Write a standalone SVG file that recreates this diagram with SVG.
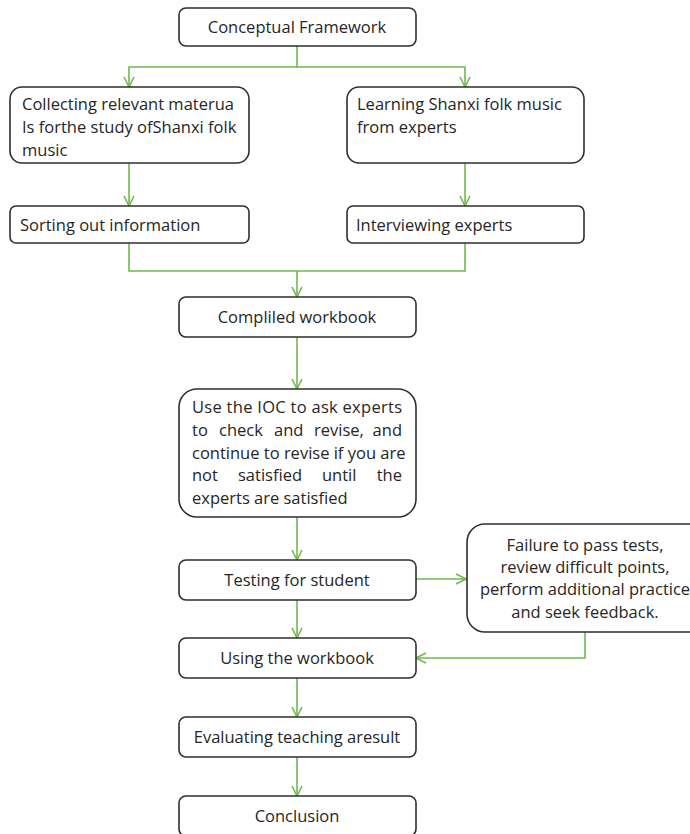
<svg xmlns="http://www.w3.org/2000/svg" width="690" height="834" viewBox="0 0 690 834">
<defs>
<style>
.box{fill:#fff;stroke:#2e2e2e;stroke-width:1.6}
.t{font-family:"Open Sans","Liberation Sans",sans-serif;font-size:16.5px;fill:#262626}
.c{text-anchor:middle}
.e{text-anchor:end}
.ln{fill:none;stroke:#72b84f;stroke-width:1.6}
</style>
<marker id="ah" viewBox="0 0 12 12" refX="11" refY="6" markerWidth="12" markerHeight="12" markerUnits="userSpaceOnUse" orient="auto">
<path d="M1,1 L11,6 L1,11" fill="none" stroke="#72b84f" stroke-width="1.6"/>
</marker>
</defs>
<rect width="690" height="834" fill="#fff"/>
<g id="connectors">
<path class="ln" d="M297,46 V67 H129 V87" marker-end="url(#ah)"/>
<path class="ln" d="M297,67 H465 V87" marker-end="url(#ah)"/>
<path class="ln" d="M129,163 V206" marker-end="url(#ah)"/>
<path class="ln" d="M465,163 V206" marker-end="url(#ah)"/>
<path class="ln" d="M129,243 V271 H465 V243"/>
<path class="ln" d="M297,271 V297" marker-end="url(#ah)"/>
<path class="ln" d="M297,337 V389" marker-end="url(#ah)"/>
<path class="ln" d="M297,517 V560" marker-end="url(#ah)"/>
<path class="ln" d="M416,579 H466" marker-end="url(#ah)"/>
<path class="ln" d="M297,600 V638" marker-end="url(#ah)"/>
<path class="ln" d="M585,632 V658 H416" marker-end="url(#ah)"/>
<path class="ln" d="M297,678 V717" marker-end="url(#ah)"/>
<path class="ln" d="M297,757 V796" marker-end="url(#ah)"/>
</g>
<g id="n1"><rect class="box" x="179" y="8" width="237" height="38" rx="7"/><text class="t c" x="297" y="33">Conceptual Framework</text></g>
<g id="n2"><rect class="box" x="10" y="87" width="239" height="76" rx="12"/>
<text class="t" x="22" y="110">Collecting relevant materua</text>
<text class="t" x="22" y="133">Is forthe study ofShanxi folk</text>
<text class="t" x="22" y="156">music</text></g>
<g id="n3"><rect class="box" x="347" y="87" width="237" height="76" rx="12"/>
<text class="t" x="357" y="110">Learning Shanxi folk music</text>
<text class="t" x="357" y="133">from experts</text></g>
<g id="n4"><rect class="box" x="10" y="206" width="239" height="37" rx="6"/><text class="t" x="20" y="231">Sorting out information</text></g>
<g id="n5"><rect class="box" x="347" y="206" width="237" height="37" rx="6"/><text class="t" x="356" y="231">Interviewing experts</text></g>
<g id="n6"><rect class="box" x="179" y="297" width="237" height="40" rx="7"/><text class="t c" x="297" y="323">Compliled workbook</text></g>
<g id="n7"><rect class="box" x="179" y="389" width="237" height="128" rx="18"/>
<text class="t" x="192" y="413" textLength="210" lengthAdjust="spacing">Use the IOC to ask experts</text>
<text class="t" y="436"><tspan x="192">to</tspan><tspan x="219">check</tspan><tspan x="274">and</tspan><tspan x="314">revise,</tspan></text>
<text class="t e" x="402" y="436">and</text>
<text class="t" x="192" y="459">continue to revise if you are</text>
<text class="t" y="481"><tspan x="192">not</tspan><tspan x="238">satisfied</tspan><tspan x="322">until</tspan></text>
<text class="t e" x="402" y="481">the</text>
<text class="t" x="192" y="504">experts are satisfied</text></g>
<g id="n8"><rect class="box" x="179" y="560" width="237" height="40" rx="7"/><text class="t c" x="297" y="586">Testing for student</text></g>
<g id="n9"><rect class="box" x="467" y="524" width="240" height="108" rx="18"/>
<text class="t c" x="585" y="551">Failure to pass tests,</text>
<text class="t c" x="585" y="573">review difficult points,</text>
<text class="t c" x="585" y="595">perform additional practice</text>
<text class="t c" x="585" y="618">and seek feedback.</text></g>
<g id="n10"><rect class="box" x="179" y="638" width="237" height="40" rx="7"/><text class="t c" x="297" y="664">Using the workbook</text></g>
<g id="n11"><rect class="box" x="179" y="717" width="237" height="40" rx="7"/><text class="t c" x="297" y="743">Evaluating teaching aresult</text></g>
<g id="n12"><rect class="box" x="179" y="796" width="237" height="40" rx="7"/><text class="t c" x="297" y="822">Conclusion</text></g>
</svg>
